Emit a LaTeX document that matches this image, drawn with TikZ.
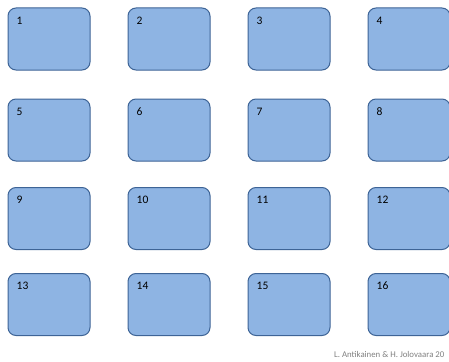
\documentclass[tikz,border=0pt]{standalone}
\usepackage{fontspec}
\setmainfont{Carlito}
\definecolor{cardfill}{RGB}{142,180,227}
\definecolor{carddraw}{RGB}{62,100,150}
\begin{document}
\begin{tikzpicture}[x=1pt, y=-1pt,
    card/.style={draw=carddraw, fill=cardfill, line width=1pt, rounded corners=8pt,
      minimum width=82pt, minimum height=62pt, inner sep=0pt},
    cardnum/.style={anchor=north west, inner sep=0pt, font=\fontsize{11.5}{13}\selectfont}]
        \useasboundingbox (0,0) rectangle (449,361);

        % Caselle
        \foreach \r/\y in {0/39,1/130,2/218.5,3/304.5}
          \foreach \c in {0,...,3} {
            \pgfmathtruncatemacro{\n}{4*\r+\c+1}
            \node[card] (b\n) at (49+120*\c,\y) {};
            \node[cardnum] (n\n) at ([shift={(9,9)}]b\n.north west) {\n};
          }

        % Firma
        \node[anchor=base west, inner sep=0pt, text=gray, font=\fontsize{8.8}{10}\selectfont] (firma) at (334,357) {L. Antikainen \& H. Jolovaara 20};
    \end{tikzpicture}
\end{document}
